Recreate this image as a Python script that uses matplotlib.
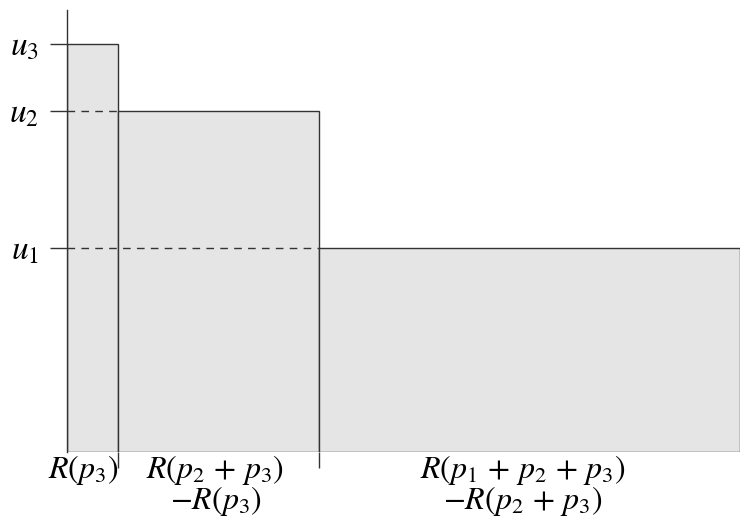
import numpy as np
import matplotlib
matplotlib.use("Agg")
import matplotlib.pyplot as plt

plt.rcParams["mathtext.fontset"] = "stix"
plt.rcParams["font.family"] = "STIXGeneral"

# bar widths (in x units) and heights, left to right
widths = [51, 201, 421]
heights = [408, 341, 204]
ytick_labels = [r"$u_3$", r"$u_2$", r"$u_1$"]
bar_labels = [
    r"$R(p_3)$",
    r"$R(p_2\,+\,p_3)$" + "\n" + r"$-R(p_3)$",
    r"$R(p_1\,+\,p_2\,+\,p_3)$" + "\n" + r"$-R(p_2\,+\,p_3)$",
]

edges = np.concatenate([[0], np.cumsum(widths)])
lefts = edges[:-1]
centers = lefts + np.array(widths) / 2

fig = plt.figure(figsize=(7.4, 5.31), dpi=100)
ax = fig.add_axes([67 / 740, 79 / 531, 673 / 740, 442 / 531])
line_c = "#333333"

ax.bar(lefts, heights, width=widths, align="edge", color="#e5e5e5",
       edgecolor=line_c, linewidth=1.0, zorder=1)

# dashed guides from the axis to each step
for i in range(1, len(heights)):
    ax.hlines(heights[i], 0, edges[i], colors=line_c, linestyles=(0, (5.5, 4.5)),
              linewidth=1.0, zorder=2)

ax.set_xlim(0, edges[-1])
ax.set_ylim(0, 442)
for s in ["top", "right", "bottom"]:
    ax.spines[s].set_visible(False)
ax.spines["left"].set_color(line_c)
ax.spines["left"].set_linewidth(1.0)

ax.set_yticks(heights)
ax.set_yticklabels(ytick_labels, fontsize=24)
ax.tick_params(axis="y", direction="out", length=12.5, width=1.0, color=line_c, pad=8)

ax.set_xticks(edges[1:-1])
ax.set_xticklabels([])
ax.tick_params(axis="x", direction="out", length=11.5, width=1.0, color=line_c)

# first label sits left of its tick, the others are roughly centred
ax.text(edges[1], -1, bar_labels[0], ha="right", va="top", fontsize=23,
        clip_on=False)
for c, lab, dx in zip(centers[1:], bar_labels[1:], [-3, -7]):
    ax.text(c + dx, -1, lab, ha="center", va="top", fontsize=23, linespacing=0.9,
            multialignment="center", clip_on=False)

fig.savefig("out.png", dpi=100)
